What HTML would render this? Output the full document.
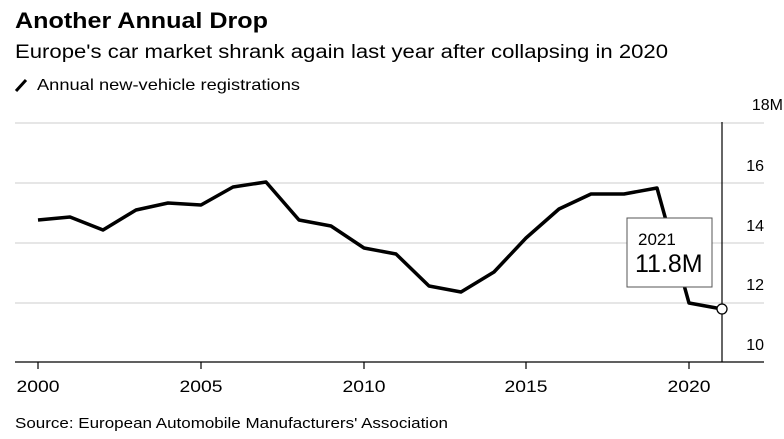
<!DOCTYPE html>
<html><head><meta charset="utf-8"><style>
html,body{margin:0;padding:0;background:#fff;}
svg{display:block;font-family:"Liberation Sans",Arial,sans-serif;}
</style></head><body>
<svg width="784" height="439" viewBox="0 0 784 439">
<text x="15" y="28" font-size="22" font-weight="bold" textLength="253" lengthAdjust="spacingAndGlyphs">Another Annual Drop</text>
<text x="15" y="58" font-size="19" textLength="653" lengthAdjust="spacingAndGlyphs">Europe's car market shrank again last year after collapsing in 2020</text>
<line x1="16" y1="91" x2="26" y2="80" stroke="#000" stroke-width="3"/>
<text x="37" y="90" font-size="16" textLength="263" lengthAdjust="spacingAndGlyphs">Annual new-vehicle registrations</text>
<g stroke="#ddd" stroke-width="1.5">
<line x1="15" y1="123" x2="764" y2="123"/>
<line x1="15" y1="183" x2="764" y2="183"/>
<line x1="15" y1="243" x2="764" y2="243"/>
<line x1="15" y1="303" x2="764" y2="303"/>
</g>
<line x1="15" y1="362" x2="764" y2="362" stroke="#000" stroke-width="1.2"/>
<g stroke="#000" stroke-width="1.2">
<line x1="38" y1="362" x2="38" y2="369"/>
<line x1="201" y1="362" x2="201" y2="369"/>
<line x1="364" y1="362" x2="364" y2="369"/>
<line x1="526" y1="362" x2="526" y2="369"/>
<line x1="689" y1="362" x2="689" y2="369"/>
</g>
<g font-size="17" text-anchor="middle">
<text x="38" y="392" textLength="43" lengthAdjust="spacingAndGlyphs">2000</text><text x="201" y="392" textLength="43" lengthAdjust="spacingAndGlyphs">2005</text><text x="364" y="392" textLength="43" lengthAdjust="spacingAndGlyphs">2010</text><text x="526" y="392" textLength="43" lengthAdjust="spacingAndGlyphs">2015</text><text x="689" y="392" textLength="43" lengthAdjust="spacingAndGlyphs">2020</text>
</g>
<g font-size="16" text-anchor="end">
<text x="783" y="110">18M</text><text x="764" y="171">16</text><text x="764" y="231">14</text><text x="764" y="290">12</text><text x="764" y="350">10</text>
</g>
<line x1="722" y1="122" x2="722" y2="362" stroke="#000" stroke-width="1.2"/>
<polyline fill="none" stroke="#000" stroke-width="3.5" stroke-linejoin="round" points="38,220 70,217 103,230 136,210 168,203 201,205 233,187 266,182 299,220 331,226 364,248 396,254 429,286 461,292 494,272 526,238 559,209 591,194 624,194 657,188 689,303 722,309"/>
<rect x="627" y="218" width="85" height="69" fill="#fff" stroke="#555" stroke-width="1"/>
<text x="638" y="245" font-size="17">2021</text>
<text x="635" y="272" font-size="25">11.8M</text>
<circle cx="722" cy="309" r="5" fill="#fff" stroke="#000" stroke-width="1.3"/>
<text x="15" y="428" font-size="15" textLength="433" lengthAdjust="spacingAndGlyphs">Source: European Automobile Manufacturers' Association</text>
</svg>
</body></html>
